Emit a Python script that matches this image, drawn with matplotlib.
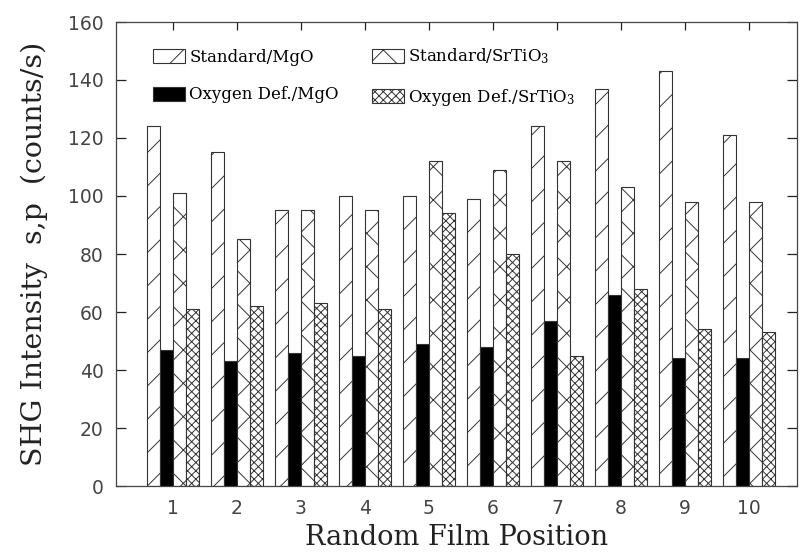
import matplotlib
matplotlib.use("Agg")
import matplotlib.pyplot as plt
import numpy as np
from matplotlib.patches import Patch

positions = [1, 2, 3, 4, 5, 6, 7, 8, 9, 10]
standard_mgo = [124, 115, 95, 100, 100, 99, 124, 137, 143, 121]
oxydef_mgo = [47, 43, 46, 45, 49, 48, 57, 66, 44, 44]
standard_srtio3 = [101, 85, 95, 95, 112, 109, 112, 103, 98, 98]
oxydef_srtio3 = [61, 62, 63, 61, 94, 80, 45, 68, 54, 53]
y_ticks = [0, 20, 40, 60, 80, 100, 120, 140, 160]
series_labels = ["Standard/MgO", "Oxygen Def./MgO",
                 "Standard/SrTiO$_3$", "Oxygen Def./SrTiO$_3$"]

plt.rcParams['hatch.linewidth'] = 0.7
plt.rcParams['mathtext.fontset'] = 'dejavuserif'

fig = plt.figure(figsize=(8.02, 5.54), dpi=100)
ax = fig.add_axes([116/802, 1-486/554, 681/802, 464/554])

x = np.array(positions, dtype=float)
w = 0.2
edge = '#333333'
series = [standard_mgo, oxydef_mgo, standard_srtio3, oxydef_srtio3]
styles = [dict(facecolor='white', hatch='/'),
          dict(facecolor='black', hatch=None),
          dict(facecolor='white', hatch='x'),
          dict(facecolor='white', hatch='xxxx')]
handles = []
for i, (vals, st) in enumerate(zip(series, styles)):
    ax.bar(x + (i - 1.5) * w, vals, width=w, edgecolor=edge, linewidth=0.8,
           **st)
    handles.append(Patch(edgecolor=edge, linewidth=0.8, label=series_labels[i], **st))

ax.set_xlim(0.11, 10.75)
ax.set_ylim(0, 160)
ax.set_xticks(positions)
ax.set_xticklabels([str(p) for p in positions])
ax.set_yticks(y_ticks)
ax.set_yticklabels([str(v) for v in y_ticks])

for s in ax.spines.values():
    s.set_color('#444444')
    s.set_linewidth(0.9)

ax.tick_params(axis='both', direction='in', colors='#222222', labelcolor='#444444',
               width=0.9)
ax.tick_params(axis='y', left=True, right=True, length=7, pad=9, labelsize=13.5)
ax.tick_params(axis='x', bottom=False, top=True, length=6, pad=9, labelsize=13.5)
for lab in ax.get_xticklabels() + ax.get_yticklabels():
    lab.set_family('DejaVu Sans')

ax.set_xlabel("Random Film Position", family='DejaVu Serif', fontsize=19.5,
              color='#222222', labelpad=5)
ax.set_ylabel("SHG Intensity  s,p  (counts/s)", family='DejaVu Serif', fontsize=20.5,
              color='#222222', labelpad=14)

leg = ax.legend(handles=handles, ncol=2, loc='upper left',
                bbox_to_anchor=(0.055, 0.947), frameon=False,
                prop={'family': 'DejaVu Serif', 'size': 12},
                handlelength=1.9, handleheight=0.9, handletextpad=0.25,
                columnspacing=2.0, labelspacing=1.25, borderpad=0, borderaxespad=0)

fig.savefig("out.png", dpi=100)
